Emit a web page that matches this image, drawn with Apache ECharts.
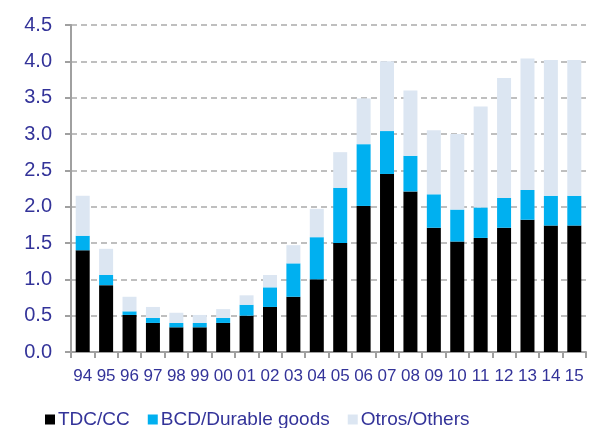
<!DOCTYPE html>
<html>
<head>
<meta charset="utf-8">
<script src="https://cdn.jsdelivr.net/npm/echarts@6/dist/echarts.min.js"></script>
<style>html,body{margin:0;padding:0;background:#fff;}#c{width:591px;height:428px;}</style>
</head>
<body>
<div id="c"></div>
<script>
const categories = ['94','95','96','97','98','99','00','01','02','03','04','05','06','07','08','09','10','11','12','13','14','15'];
const tdc    = [1.40,0.92,0.51,0.40,0.34,0.34,0.40,0.50,0.62,0.76,1.00,1.50,2.01,2.45,2.21,1.71,1.52,1.57,1.71,1.82,1.74,1.74];
const bcd    = [0.20,0.14,0.05,0.07,0.06,0.06,0.07,0.15,0.27,0.46,0.58,0.76,0.85,0.59,0.49,0.46,0.44,0.42,0.41,0.41,0.41,0.41];
const otros  = [0.55,0.36,0.20,0.15,0.14,0.11,0.12,0.13,0.17,0.25,0.39,0.49,0.63,0.96,0.90,0.88,1.04,1.39,1.65,1.81,1.87,1.87];
const seriesNames = ['TDC/CC','BCD/Durable goods','Otros/Others'];
const yTicks = {min:0, max:4.5, interval:0.5};

const txt = '#333399';
const chart = echarts.init(document.getElementById('c'));
const mk = (name, data, color) => ({
  name, type:'bar', stack:'a', data, barWidth:14,
  itemStyle:{color}, emphasis:{disabled:true}
});
chart.setOption({
  animation:false,
  textStyle:{fontFamily:'Liberation Sans, Arial, sans-serif'},
  grid:{left:71, right:5, top:25, bottom:76},
  legend:{
    bottom:-6, left:40, itemWidth:10, itemHeight:10, itemGap:18,
    icon:'rect',
    textStyle:{color:txt, fontSize:19, padding:[0,0,0,-2]},
    data:seriesNames
  },
  xAxis:{
    type:'category', data:categories,
    axisLine:{lineStyle:{color:'#a0a0a0', width:2}},
    axisTick:{show:true, length:6, interval:0, lineStyle:{color:'#a0a0a0', width:2}},
    axisLabel:{color:txt, fontSize:17, margin:16, interval:0, hideOverlap:false}
  },
  yAxis:{
    type:'value', min:yTicks.min, max:yTicks.max, interval:yTicks.interval,
    axisLine:{show:true, lineStyle:{color:'#a0a0a0', width:2}},
    axisTick:{show:true, length:6, lineStyle:{color:'#a0a0a0', width:2}},
    axisLabel:{color:txt, fontSize:20, margin:19, formatter:v=>v.toFixed(1)},
    splitLine:{show:true, lineStyle:{color:'#bfbfbf', width:2, type:[6,4]}}
  },
  series:[
    mk(seriesNames[0], tdc, '#000000'),
    mk(seriesNames[1], bcd, '#00b0f0'),
    mk(seriesNames[2], otros, '#dce6f2')
  ]
});
</script>
</body>
</html>
